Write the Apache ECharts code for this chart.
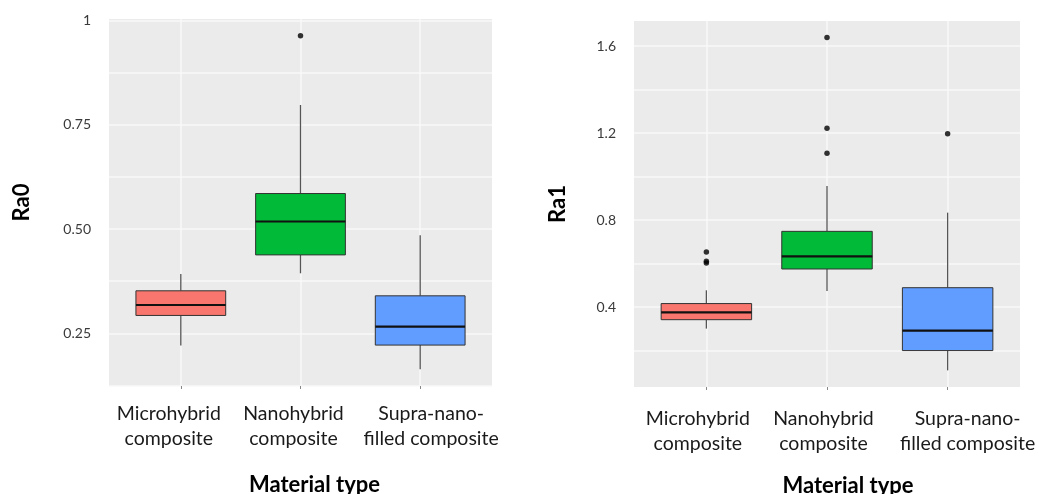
<!DOCTYPE html>
<html>
<head>
<meta charset="utf-8">
<script src="https://cdn.jsdelivr.net/npm/echarts@6/dist/echarts.min.js"></script>
<style>
  html, body { margin: 0; padding: 0; background: #fff; }
  #chart { width: 1039px; height: 494px; }
</style>
</head>
<body>
<div id="chart"></div>
<script>
// ---------- data ----------
const categories = ['Microhybrid\ncomposite', 'Nanohybrid\ncomposite', 'Supra-nano-\nfilled composite'];
const groupColors = ['#F8766D', '#00BA38', '#619CFF'];

// [min, Q1, median, Q3, max]
const ra0Stats = [
  [0.221, 0.293, 0.318, 0.352, 0.392],
  [0.394, 0.438, 0.518, 0.585, 0.797],
  [0.164, 0.222, 0.266, 0.340, 0.485]
];
const ra0Outliers = [[], [0.963], []];

const ra1Stats = [
  [0.301, 0.342, 0.376, 0.416, 0.477],
  [0.474, 0.575, 0.633, 0.748, 0.956],
  [0.109, 0.200, 0.292, 0.489, 0.834]
];
const ra1Outliers = [[0.653, 0.611, 0.602], [1.639, 1.222, 1.107], [1.197]];

const ra0Ticks = [0.25, 0.50, 0.75, 1];
const ra0Grid = [0.125, 0.25, 0.375, 0.50, 0.625, 0.75, 0.875, 1];
const ra1Ticks = [0.4, 0.8, 1.2, 1.6];
const ra1Grid = [0.2, 0.4, 0.6, 0.8, 1.0, 1.2, 1.4, 1.6];

// ---------- helpers ----------
const BOX_WIDTH = 0.75;
const FONT = 'Lato, "Open Sans", sans-serif';

function boxData(stats) {
  return stats.map((s, i) => [i + 1].concat(s));
}
function outlierData(outs) {
  const res = [];
  outs.forEach((arr, i) => arr.forEach(v => res.push([i + 1, v])));
  return res;
}
function renderBox(params, api) {
  const x = api.value(0);
  const lo = api.coord([x, api.value(1)]);
  const q1 = api.coord([x, api.value(2)]);
  const md = api.coord([x, api.value(3)]);
  const q3 = api.coord([x, api.value(4)]);
  const hi = api.coord([x, api.value(5)]);
  const w = api.size([BOX_WIDTH, 0])[0];
  const cx = lo[0];
  const color = groupColors[x - 1];
  const whisker = { stroke: '#555', lineWidth: 1.3 };
  return {
    type: 'group',
    children: [
      { type: 'line', shape: { x1: cx, y1: hi[1], x2: cx, y2: q3[1] }, style: whisker },
      { type: 'line', shape: { x1: cx, y1: q1[1], x2: cx, y2: lo[1] }, style: whisker },
      { type: 'rect', shape: { x: cx - w / 2, y: q3[1], width: w, height: q1[1] - q3[1] },
        style: { fill: color, stroke: '#333', lineWidth: 1 } },
      { type: 'line', shape: { x1: cx - w / 2, y1: md[1], x2: cx + w / 2, y2: md[1] },
        style: { stroke: '#111', lineWidth: 2.2 } }
    ]
  };
}

// main x axis: ticks, vertical grid lines, axis title
function xAxisMain(gridIndex, namePadLeft) {
  return {
    type: 'value', gridIndex: gridIndex, min: 0.4, max: 3.6,
    axisLine: { show: false },
    axisTick: { show: true, length: 3, customValues: [1, 2, 3], lineStyle: { color: '#888', width: 1 } },
    axisLabel: { show: false },
    splitLine: { show: true, lineStyle: { color: '#f8f8f8', width: 1.5 } },
    name: 'Material type',
    nameLocation: 'middle',
    nameGap: 88,
    nameMoveOverlap: false,
    nameTextStyle: { fontFamily: FONT, fontSize: 22, fontWeight: 'bold', color: '#000', padding: [0, 0, 0, namePadLeft] }
  };
}
// label-only x axes (labels split over two axes so neighbouring labels never compete)
function xAxisLabels(gridIndex, values, shifts, labelMargin) {
  const base = { fontFamily: FONT, fontSize: 19.5, color: '#1a1a1a', lineHeight: 25, align: 'center' };
  return {
    type: 'value', gridIndex: gridIndex, min: 0.4, max: 3.6, position: 'bottom',
    axisLine: { show: false },
    axisTick: { show: false },
    splitLine: { show: false },
    axisLabel: {
      customValues: values,
      margin: labelMargin,
      hideOverlap: false,
      formatter: v => '{' + ['m', 'n', 's'][v - 1] + '|' + categories[v - 1] + '}',
      rich: {
        m: Object.assign({}, base, { padding: [0, shifts[0], 0, 0] }),
        n: Object.assign({}, base, { padding: [0, shifts[1], 0, 0] }),
        s: Object.assign({}, base, { padding: [0, 0, 0, shifts[2]] })
      }
    }
  };
}

function yAxisFor(gridIndex, name, min, max, ticks, gridVals, fmt, nameGap) {
  return {
    type: 'value', gridIndex: gridIndex, min: min, max: max,
    axisLine: { show: false },
    axisTick: { show: false, customValues: gridVals },
    axisLabel: {
      customValues: ticks, margin: 18, formatter: fmt,
      fontFamily: FONT, fontSize: 14, color: '#3a3a3a'
    },
    splitLine: { show: true, lineStyle: { color: '#f8f8f8', width: 1.5 } },
    name: name, nameLocation: 'middle', nameGap: nameGap, nameRotate: 90,
    nameMoveOverlap: false,
    nameTextStyle: { fontFamily: FONT, fontSize: 22, fontWeight: 'bold', color: '#000' }
  };
}

const shiftsL = [24, 14, 22];
const shiftsR = [17, 7, 40];

const chart = echarts.init(document.getElementById('chart'), null, { renderer: 'canvas' });
chart.setOption({
  backgroundColor: '#ffffff',
  animation: false,
  grid: [
    { left: 109, top: 19, width: 383, height: 367, show: true, backgroundColor: '#EBEBEB', borderWidth: 0, outerBoundsMode: 'none', containLabel: false },
    { left: 634, top: 21, width: 386, height: 366, show: true, backgroundColor: '#EBEBEB', borderWidth: 0, outerBoundsMode: 'none', containLabel: false }
  ],
  xAxis: [
    xAxisMain(0, 28),
    xAxisMain(1, 42),
    xAxisLabels(0, [1, 3], shiftsL, 15),
    xAxisLabels(0, [2], shiftsL, 15),
    xAxisLabels(1, [1, 3], shiftsR, 19),
    xAxisLabels(1, [2], shiftsR, 19)
  ],
  yAxis: [
    yAxisFor(0, 'Ra0', 0.124, 1.003, ra0Ticks, ra0Grid, v => (v === 1 ? '1' : v.toFixed(2)), 76),
    yAxisFor(1, 'Ra1', 0.0325, 1.715, ra1Ticks, ra1Grid, v => v.toFixed(1), 65)
  ],
  series: [
    { type: 'custom', xAxisIndex: 0, yAxisIndex: 0, renderItem: renderBox,
      encode: { x: 0, y: [1, 2, 3, 4, 5] }, data: boxData(ra0Stats) },
    { type: 'scatter', xAxisIndex: 0, yAxisIndex: 0, symbolSize: 5.5,
      itemStyle: { color: '#000' }, data: outlierData(ra0Outliers) },
    { type: 'custom', xAxisIndex: 1, yAxisIndex: 1, renderItem: renderBox,
      encode: { x: 0, y: [1, 2, 3, 4, 5] }, data: boxData(ra1Stats) },
    { type: 'scatter', xAxisIndex: 1, yAxisIndex: 1, symbolSize: 5.5,
      itemStyle: { color: '#000' }, data: outlierData(ra1Outliers) }
  ]
});
</script>
</body>
</html>
